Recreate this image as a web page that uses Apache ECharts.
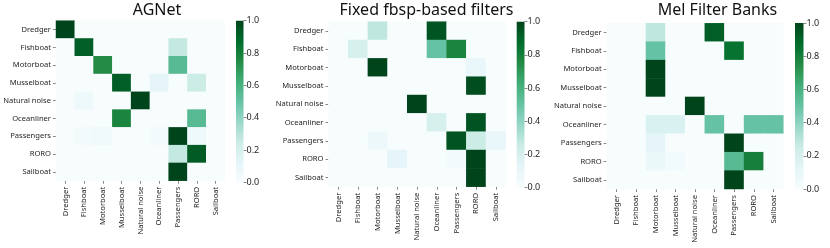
<!DOCTYPE html>
<html>
<head>
<meta charset="utf-8">
<script src="https://cdn.jsdelivr.net/npm/echarts@6/dist/echarts.min.js"></script>
<style>
html,body{margin:0;padding:0;background:#fff;}
#chart{width:830px;height:248px;}
</style>
</head>
<body>
<div id="chart"></div>
<script>
// Class names (true = rows, predicted = columns)
const classes = ['Dredger','Fishboat','Motorboat','Musselboat','Natural noise','Oceanliner','Passengers','RORO','Sailboat'];

// Panel titles
const titles = ['AGNet','Fixed fbsp-based filters','Mel Filter Banks'];

// Confusion matrices (row = true class, column = predicted class)
const agnet = [
  [1.00,0,0,0,0,0,0,0,0],
  [0,0.92,0,0,0,0,0.27,0,0],
  [0,0,0.75,0,0,0,0.55,0,0],
  [0,0,0,0.92,0,0.12,0,0.25,0],
  [0,0.06,0,0,1.00,0,0,0,0],
  [0,0,0,0.78,0,0,0,0.55,0],
  [0,0.03,0.05,0,0,0.03,1.00,0.06,0],
  [0,0,0,0,0,0,0.27,0.93,0],
  [0,0,0,0,0,0,1.00,0,0]
];
const fbsp = [
  [0,0,0.28,0,0,0.95,0,0,0],
  [0,0.20,0,0,0,0.50,0.78,0,0],
  [0,0,1.00,0,0,0,0,0.10,0],
  [0,0,0,0,0,0,0,0.97,0],
  [0,0,0,0,1.00,0,0,0,0],
  [0,0,0,0,0,0.20,0,0.95,0],
  [0,0,0.07,0,0,0,0.95,0.25,0.10],
  [0,0,0,0.12,0,0,0.03,1.00,0],
  [0,0,0,0,0,0,0,1.00,0]
];
const mel = [
  [0,0,0.28,0,0,0.92,0,0,0],
  [0,0,0.50,0,0,0,0.85,0,0],
  [0,0,1.00,0,0,0,0,0,0],
  [0,0,1.00,0,0,0,0,0,0],
  [0,0,0,0,1.00,0,0,0,0],
  [0,0,0.18,0.18,0,0.50,0,0.50,0.50],
  [0,0,0.12,0,0,0,1.00,0,0],
  [0,0,0.08,0.04,0,0,0.55,0.80,0],
  [0,0,0,0,0,0,1.00,0,0]
];

// Colorbar tick values
const cbTicks = [0.0,0.2,0.4,0.6,0.8,1.0];

// BuGn colormap
const bugn = ['#f7fcfd','#e5f5f9','#ccece6','#99d8c9','#66c2a4','#41ae76','#238b45','#006d2c','#00441b'];

const matrices = [agnet, fbsp, mel];

const heatGrids = [
  {left:56, top:20.7, width:169, height:160},
  {left:328.5, top:21.7, width:177.2, height:165},
  {left:606.7, top:23.3, width:176.6, height:165.7}
];
const cbGrids = [
  {left:236, top:20.7, width:7.5, height:161.7},
  {left:516.7, top:21.7, width:7.8, height:166},
  {left:795, top:23, width:8.5, height:166}
];
const titleCenters = [152, 421.5, 712.5];

const FONT = 'Noto Sans';
const TXT = '#262626';
const TICK = '#6b6b6b';

const grids = [], xAxes = [], yAxes = [], series = [], visualMaps = [], titleOpts = [];

matrices.forEach((m, p) => {
  const data = [];
  m.forEach((row, r) => row.forEach((v, c) => data.push([c, r, v])));
  grids.push(Object.assign({containLabel:false}, heatGrids[p]));
  grids.push(Object.assign({containLabel:false}, cbGrids[p]));
  const gi = p * 2;
  xAxes.push({
    type:'category', gridIndex:gi, data:classes, position:'bottom',
    axisLine:{show:false}, splitLine:{show:false},
    axisTick:{show:true, alignWithLabel:true, length:3, lineStyle:{color:TICK, width:0.8}},
    axisLabel:{rotate:90, fontFamily:FONT, fontSize:7.6, color:TXT, margin:6, interval:0}
  });
  yAxes.push({
    type:'category', gridIndex:gi, data:classes, inverse:true,
    axisLine:{show:false}, splitLine:{show:false},
    axisTick:{show:true, alignWithLabel:true, length:3, lineStyle:{color:TICK, width:0.8}},
    axisLabel:{fontFamily:FONT, fontSize:7.6, color:TXT, margin:5, interval:0}
  });
  // colorbar axes
  xAxes.push({
    type:'category', gridIndex:gi+1, data:['cb'], show:false, boundaryGap:true
  });
  yAxes.push({
    type:'value', gridIndex:gi+1, min:0, max:1, interval:0.2, position:'right',
    axisLine:{show:false}, splitLine:{show:false},
    axisTick:{show:true, length:3, lineStyle:{color:TICK, width:0.8}},
    axisLabel:{fontFamily:FONT, fontSize:9, color:TXT, margin:3,
      formatter: v => cbTicks.indexOf(Math.round(v*10)/10) >= 0 ? v.toFixed(1) : ''}
  });
  series.push({
    type:'heatmap', xAxisIndex:gi, yAxisIndex:gi, data:data,
    itemStyle:{borderWidth:0}, emphasis:{disabled:true}, progressive:0
  });
  series.push({
    type:'bar', xAxisIndex:gi+1, yAxisIndex:gi+1, data:[1],
    barWidth:'100%', barCategoryGap:0, silent:true,
    itemStyle:{
      color:{type:'linear', x:0, y:0, x2:0, y2:1,
        colorStops: bugn.slice().reverse().map((c,i,a)=>({offset:i/(a.length-1), color:c}))}
    }
  });
  visualMaps.push({
    show:false, type:'continuous', min:0, max:1, dimension:2,
    seriesIndex: p*2, inRange:{color:bugn}
  });
  titleOpts.push({
    text: titles[p], left: titleCenters[p], top:-3, textAlign:'center',
    textStyle:{fontFamily:FONT, fontSize:16, fontWeight:'normal', color:'#111'}
  });
});

const chart = echarts.init(document.getElementById('chart'), null, {renderer:'canvas'});
chart.setOption({
  animation:false,
  backgroundColor:'#ffffff',
  title:titleOpts,
  grid:grids,
  xAxis:xAxes,
  yAxis:yAxes,
  visualMap:visualMaps,
  series:series
});
</script>
</body>
</html>
